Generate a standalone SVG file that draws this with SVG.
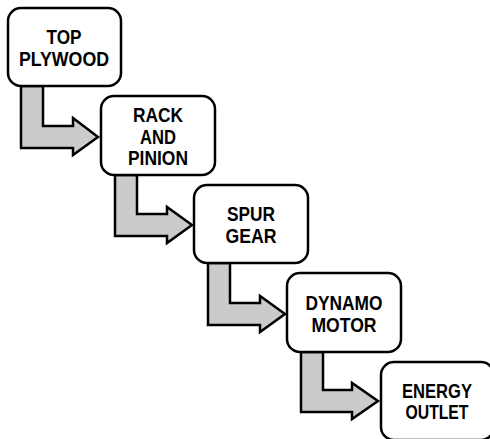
<svg xmlns="http://www.w3.org/2000/svg" width="490" height="439" viewBox="0 0 490 439">
<style>
.box{fill:#fff;stroke:#000;stroke-width:2.5}
.arr{fill:#cbcbcb;stroke:#000;stroke-width:2.5;stroke-linejoin:miter}
text{font-family:"Liberation Sans",Arial,sans-serif;font-weight:bold;font-size:20.5px;text-anchor:middle;fill:#000}
</style>
<rect width="490" height="439" fill="#fff"/>
<g id="connectors">
<path class="arr" d="M21,86 V148 H73 V155 L98,137 L73,118 V126 H43 V86 Z"/>
<path class="arr" d="M115,175 V236 H167 V243 L192,225 L167,207 V214 H137 V175 Z"/>
<path class="arr" d="M208,263 V325 H260 V332 L285,314 L260,296 V303 H230 V263 Z"/>
<path class="arr" d="M301,352 V412 H352 V419 L378,401 L352,383 V390 H323 V352 Z"/>
</g>
<g id="node1">
<rect class="box" x="8" y="8" width="113" height="78" rx="13"/>
<text x="64" y="44" textLength="35" lengthAdjust="spacingAndGlyphs">TOP</text>
<text x="64" y="66" textLength="90" lengthAdjust="spacingAndGlyphs">PLYWOOD</text>
</g>
<g id="node2">
<rect class="box" x="101" y="96" width="114" height="79" rx="13"/>
<text x="158" y="122" textLength="50" lengthAdjust="spacingAndGlyphs">RACK</text>
<text x="158" y="144" textLength="36" lengthAdjust="spacingAndGlyphs">AND</text>
<text x="158" y="165" textLength="60" lengthAdjust="spacingAndGlyphs">PINION</text>
</g>
<g id="node3">
<rect class="box" x="194" y="185" width="114" height="78" rx="13"/>
<text x="251" y="221" textLength="48" lengthAdjust="spacingAndGlyphs">SPUR</text>
<text x="251" y="243" textLength="51" lengthAdjust="spacingAndGlyphs">GEAR</text>
</g>
<g id="node4">
<rect class="box" x="287" y="273" width="114" height="79" rx="13"/>
<text x="344" y="310" textLength="77" lengthAdjust="spacingAndGlyphs">DYNAMO</text>
<text x="344" y="332" textLength="65" lengthAdjust="spacingAndGlyphs">MOTOR</text>
</g>
<g id="node5">
<rect class="box" x="381" y="362" width="113" height="78" rx="13"/>
<text x="437" y="398" textLength="70" lengthAdjust="spacingAndGlyphs">ENERGY</text>
<text x="437" y="419" textLength="63" lengthAdjust="spacingAndGlyphs">OUTLET</text>
</g>
</svg>
